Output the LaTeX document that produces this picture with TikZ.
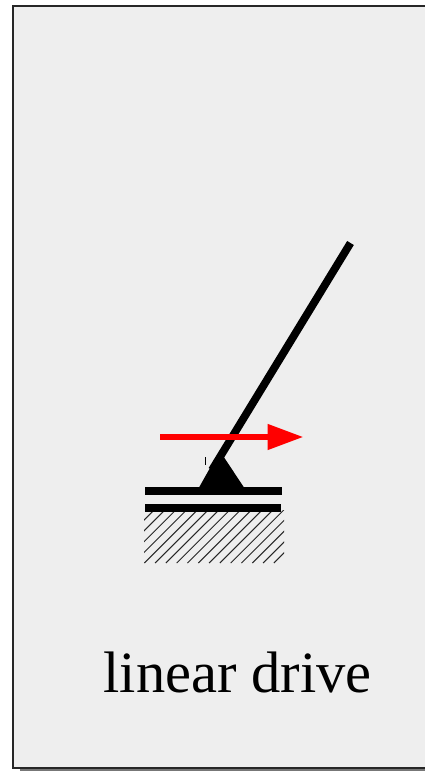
\documentclass[tikz,border=0pt]{standalone}
\usepackage{fontspec}
\setmainfont{Liberation Serif}
\usetikzlibrary{arrows.meta}
\definecolor{panelgray}{HTML}{EEEEEE}
\definecolor{shadowgray}{HTML}{777777}
\tikzset{
  bar/.style={fill=black,draw=none},
  hatchline/.style={draw=black!85,line width=1pt},
  lever/.style={draw=black,line width=7.8pt},
  drive/.style={draw=red,line width=6.2pt,-{Triangle[length=36pt,width=24.5pt]}}
}
\begin{document}
\begin{tikzpicture}[x=1pt,y=-1pt]
\useasboundingbox (0,0) rectangle (425,771);
\fill[white] (0,0) rectangle (425,771);
% shadow
\fill[shadowgray] (20,767) rectangle (425,770.6);
% panel
\draw[fill=panelgray,draw=black!85,line width=1.7pt] (13.3,6) rectangle (430,768);
% hatch
\begin{scope}
\clip (144,510) rectangle (284,563);
\foreach \i in {0,...,18}{
  \draw[hatchline] ({144.3+10.8*\i},563) -- ++(60,-60);
}
\foreach \i in {1,...,5}{
  \draw[hatchline] ({144.3-10.8*\i},563) -- ++(60,-60);
}
\end{scope}
% bars
\fill[bar] (145.3,487) rectangle (282,494.7);
\fill[bar] (145,504.4) rectangle (281,512);
% pivot and lever
\fill[black] (199,487.5) -- (244,487.5) -- (224.5,458) -- (219,452) -- cycle;
\draw[lever] (350.5,243) -- (212,470);
% arrow
\coordinate (drivestart) at (160,437);
\coordinate (driveend) at (303.5,437);
\draw[drive] (drivestart) -- (driveend);
% tick
\draw[black,line width=0.8pt] (205.3,457) -- (205.3,464.5);
% label
\node[anchor=base,font=\fontsize{58.5}{58}\selectfont,inner sep=0pt] (label) at (237.7,692) {linear drive};
\end{tikzpicture}
\end{document}
